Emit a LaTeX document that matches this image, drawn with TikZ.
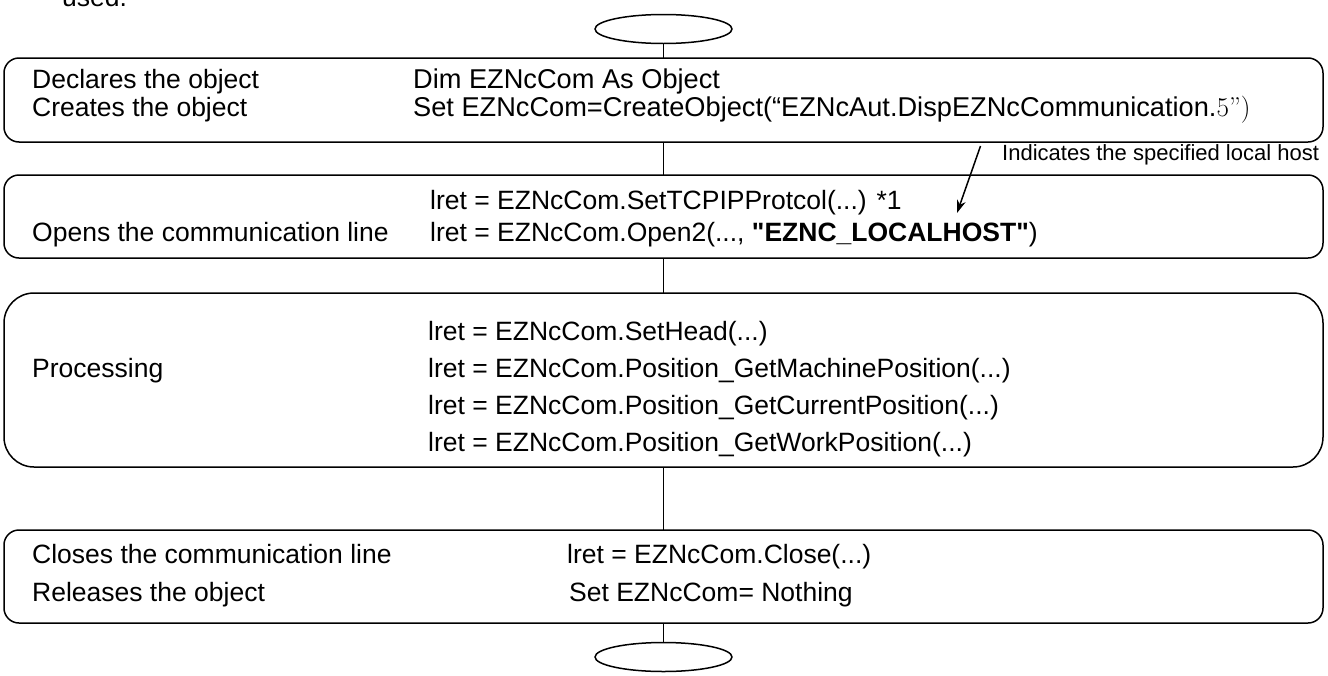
\documentclass[tikz,border=0pt]{standalone}
\usepackage{fontspec}
\setmainfont{Liberation Sans}
\usetikzlibrary{arrows.meta,shapes.geometric}
\tikzset{
  stage/.style={draw, line width=1.5pt, rounded corners=15pt},
  bigstage/.style={draw, line width=1.5pt, rounded corners=30pt},
  link/.style={draw, line width=1.5pt},
  term/.style={draw, line width=1.5pt, ellipse, minimum width=137pt, minimum height=29pt, inner sep=0pt},
  txt/.style={anchor=base west, inner sep=0pt, font=\fontsize{26.5}{30}\selectfont},
  code/.style={txt, font=\fontsize{27.2}{30}\selectfont},
  note/.style={anchor=base west, inner sep=0pt, font=\fontsize{22}{25}\selectfont},
}
\begin{document}
\begin{tikzpicture}[x=1pt, y=-1pt]
\useasboundingbox (0,0) rectangle (1328,675);

% last line of the text above, cut at the top of the page
\node[txt] (used) at (62,6) {used.};

% start terminal
\node[term] (start) at (663.5,29) {};

% stage 1: object creation
\draw[stage] (4,58) rectangle (1323,142);
\coordinate (s1t) at (663.5,58);
\coordinate (s1b) at (663.5,142);
\node[txt] (d1) at (32,88) {Declares the object};
\node[txt] (d2) at (32,116) {Creates the object};
\node[code] (c1) at (413,88) {Dim EZNcCom As Object};
\node[code] (c2) at (413,116) {Set EZNcCom=CreateObject(“EZNcAut.DispEZNcCommunication.{\fontfamily{lmr}\selectfont 5”)}};

% stage 2: open line
\draw[stage] (4,175) rectangle (1323,258);
\coordinate (s2t) at (663.5,175);
\coordinate (s2b) at (663.5,258);
\node[txt] (o1) at (430,209) {lret = EZNcCom.SetTCPIPProtcol(...) *1};
\node[txt] (o0) at (32,241) {Opens the communication line};
\node[txt] (o2) at (430,241) {lret = EZNcCom.Open2(..., \textbf{\textquotedbl EZNC\_LOCALHOST\textquotedbl})};

% note on the host argument
\node[note] (host) at (1002,160) {Indicates the specified local host};
\coordinate (hostfoot) at (980.5,146);
\coordinate (hosttip) at (957,213);
\draw[line width=1.5pt, -{Stealth[length=13pt, width=9pt]}] (hostfoot) -- (hosttip);

% stage 3: processing
\draw[bigstage] (4,293) rectangle (1323,467);
\coordinate (s3t) at (663.5,293);
\coordinate (s3b) at (663.5,467);
\node[txt] (p1) at (428,340) {lret = EZNcCom.SetHead(...)};
\node[txt] (p0) at (32,377) {Processing};
\node[txt] (p2) at (428,377) {lret = EZNcCom.Position\_GetMachinePosition(...)};
\node[txt] (p3) at (428,414) {lret = EZNcCom.Position\_GetCurrentPosition(...)};
\node[txt] (p4) at (428,451) {lret = EZNcCom.Position\_GetWorkPosition(...)};

% stage 4: close and release
\draw[stage] (4,530) rectangle (1323,623);
\coordinate (s4t) at (663.5,530);
\coordinate (s4b) at (663.5,623);
\node[txt] (e0) at (32,563) {Closes the communication line};
\node[txt] (e1) at (567,563) {lret = EZNcCom.Close(...)};
\node[txt] (f0) at (32,601) {Releases the object};
\node[txt] (f1) at (569,601) {Set EZNcCom= Nothing};

% end terminal
\node[term] (stop) at (663.5,657) {};

% connectors
\draw[link] (start.south) -- (s1t);
\draw[link] (s1b) -- (s2t);
\draw[link] (s2b) -- (s3t);
\draw[link] (s3b) -- (s4t);
\draw[link] (s4b) -- (stop.north);
\end{tikzpicture}
\end{document}
